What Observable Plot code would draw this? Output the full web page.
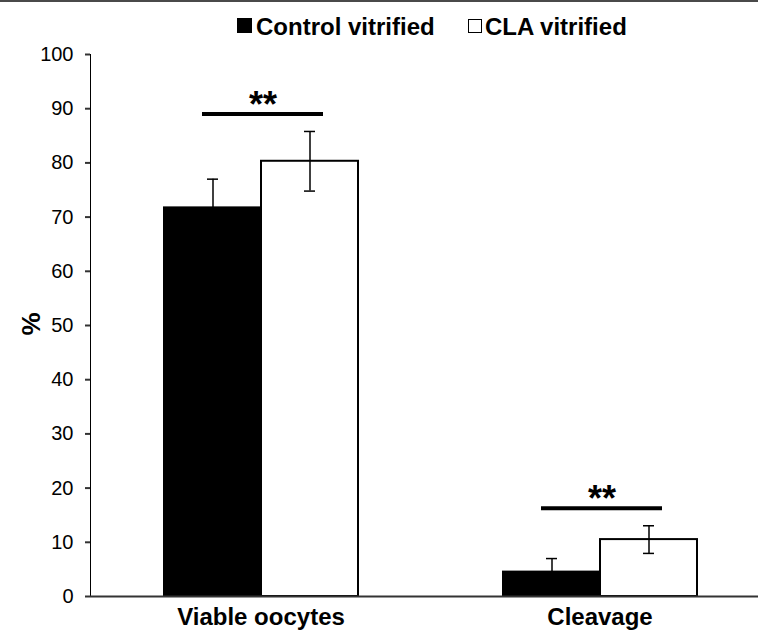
<!DOCTYPE html>
<html><head><meta charset="utf-8">
<script src="https://cdn.jsdelivr.net/npm/d3@7"></script>
<script src="https://cdn.jsdelivr.net/npm/@observablehq/plot@0.6"></script>
<style>
html,body{margin:0;padding:0;background:#fff;overflow:hidden}
#wrap{position:relative;width:758px;height:630px;font-family:"Liberation Sans",Arial,sans-serif;}
#topline{height:2px;background:#4a4a4a}
#legend{position:absolute;left:0;top:2px;width:758px;height:43px;z-index:2}
.sw{position:absolute;box-sizing:border-box}
.lt{position:absolute;font-weight:bold;font-size:24px;line-height:24px;white-space:nowrap;color:#000}
#ylab{position:absolute;left:31px;top:324px;transform:translate(-50%,-50%) rotate(-90deg);font-weight:bold;font-size:26px;line-height:26px;color:#000;z-index:2}
#chart svg g[aria-label^="fx-axis"] text{font-size:24px;font-weight:bold}
#chart svg g[aria-label^="y-axis"] line, #chart svg g[aria-label^="y-axis"] path{stroke:#333;stroke-width:2px}
</style></head>
<body><div id="wrap"><div id="topline"></div><div id="legend"></div><div id="chart"></div><div id="ylab">%</div></div>
<script>
const categories = ["Viable oocytes", "Cleavage"];
const series = ["Control vitrified", "CLA vitrified"];
const controlMeans = [71.7, 4.5];
const controlErrors = [5.3, 2.5];
const claMeans = [80.3, 10.5];
const claErrors = [5.5, 2.55];
const significanceLevels = [89.0, 16.3];
const significanceLabels = ["**", "**"];
const yTicks = [0, 10, 20, 30, 40, 50, 60, 70, 80, 90, 100];

const rows = categories.flatMap((c, i) => [
  {category: c, series: series[0], mean: controlMeans[i], err: controlErrors[i]},
  {category: c, series: series[1], mean: claMeans[i], err: claErrors[i]}
]);
const sig = categories.map((c, i) => ({category: c, y: significanceLevels[i], label: significanceLabels[i]}));

// legend (HTML, above the plot area)
const legend = document.getElementById("legend");
legend.innerHTML =
  `<div class="sw" style="left:237px;top:16px;width:15px;height:15px;background:#000"></div>` +
  `<div class="lt" style="left:256px;top:13px">${series[0]}</div>` +
  `<div class="sw" style="left:468px;top:17px;width:14px;height:14px;background:#fff;border:1.5px solid #000"></div>` +
  `<div class="lt" style="left:485px;top:13px">${series[1]}</div>`;

const chart = Plot.plot({
  width: 758, height: 628,
  marginLeft: 90, marginRight: 0, marginTop: 52, marginBottom: 34,
  style: {fontFamily: '"Liberation Sans", Arial, sans-serif', fontSize: "20px", color: "#000", background: "#fff"},
  fx: {domain: categories, paddingInner: 0.0295, paddingOuter: 0, label: null, tickSize: 0, tickPadding: 11},
  x: {domain: series, paddingInner: 0, paddingOuter: 0.6786, align: 0.549, axis: null},
  y: {domain: [0, 100], ticks: yTicks, tickSize: 5, tickPadding: 12, label: null, line: true},
  color: {domain: series, range: ["#000", "#fff"]},
  marks: [
    Plot.barY(rows, {fx: "category", x: "series", y: "mean", fill: "series", stroke: "#000", strokeWidth: 2}),
    Plot.ruleX(rows, {fx: "category", x: "series", y1: d => d.mean - d.err, y2: d => d.mean + d.err, stroke: "#000", strokeWidth: 1.5}),
    Plot.tickY(rows, {fx: "category", x: "series", y: d => d.mean + d.err, insetLeft: 43, insetRight: 43, stroke: "#000", strokeWidth: 1.5}),
    Plot.tickY(rows, {fx: "category", x: "series", y: d => d.mean - d.err, insetLeft: 43, insetRight: 43, stroke: "#000", strokeWidth: 1.5}),
    Plot.ruleY(sig, {fx: "category", y: "y", stroke: "#000", strokeWidth: 4, insetLeft: 112, insetRight: 96}),
    Plot.text(sig, {fx: "category", y: "y", text: "label", lineAnchor: "bottom", fontSize: 36, fontWeight: "bold", dy: 3, dx: 8, fill: "#000"}),
    Plot.ruleY([0], {stroke: "#333", strokeWidth: 2, insetRight: -10})
  ]
});
// nudge the category labels right, keeping the axis group's own transform
d3.select(chart).selectAll('g[aria-label^="fx-axis"]').each(function () {
  const t = this.getAttribute("transform") || "";
  this.setAttribute("transform", `translate(6,0) ${t}`);
});
document.getElementById("chart").appendChild(chart);
</script>
</body></html>
